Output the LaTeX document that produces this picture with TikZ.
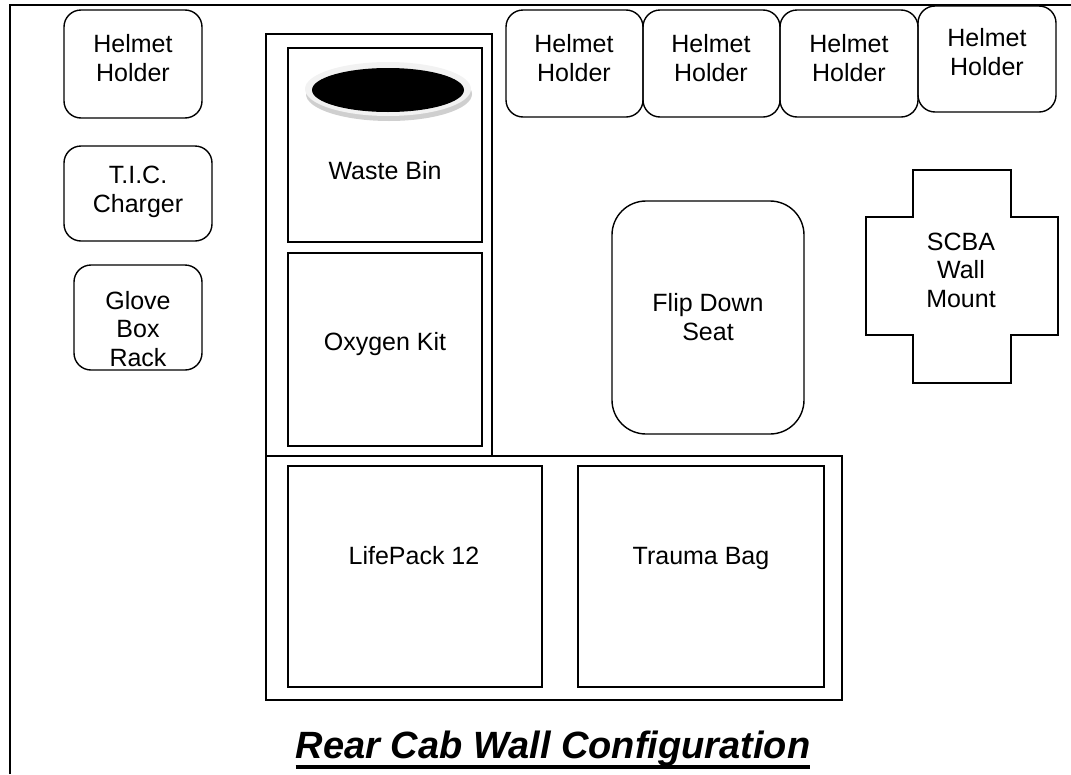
\documentclass[tikz,border=0pt]{standalone}
\usepackage{fontspec}
\setmainfont{Liberation Sans}
\usetikzlibrary{fit,calc}
\definecolor{ringgray}{HTML}{F2F2F2}
\definecolor{ringshadow}{HTML}{CFCFCF}
\tikzset{
  holder/.style={draw, line width=1.4pt, rounded corners=17pt, inner sep=0pt},
  seatbox/.style={draw, line width=1.4pt, rounded corners=34pt, inner sep=0pt},
  bay/.style={draw, line width=1.8pt, inner sep=0pt},
  lbl/.style={font=\fontsize{25}{28.5}\selectfont, align=center, inner sep=0pt},
  frameline/.style={line width=2.4pt},
}
\begin{document}
\begin{tikzpicture}[x=1pt,y=-1pt]
\useasboundingbox (0,0) rectangle (1071,774);

% outer wall frame (left and top edges)
\draw[frameline] (10,774) -- (10,5) -- (1071,5);

% helmet holders
\node[holder, fit={(64,10) (202,118)}] (hh1) {};
\node[holder, fit={(506,10) (643,117)}] (hh2) {};
\node[holder, fit={(643,10) (780,117)}] (hh3) {};
\node[holder, fit={(780,10) (918,117)}] (hh4) {};
\node[holder, fit={(918,6) (1056,112)}] (hh5) {};
\node[lbl] (hh1t) at (133,58) {Helmet\\Holder};
\node[lbl] (hh2t) at (574,58) {Helmet\\Holder};
\node[lbl] (hh3t) at (711,58) {Helmet\\Holder};
\node[lbl] (hh4t) at (849,58) {Helmet\\Holder};
\node[lbl] (hh5t) at (987,52) {Helmet\\Holder};

% thermal imaging camera charger and glove box rack
\node[holder, fit={(64,146) (212,241)}] (tic) {};
\node[lbl] (tict) at (138,192) {T.I.C.\\Charger};
\node[holder, fit={(74,265) (202,370)}] (glove) {};
\node[lbl] (glovet) at (138,329) {Glove\\Box\\Rack};

% tall cabinet with waste bin and oxygen kit
\node[bay, fit={(266,34) (492,456)}] (cab) {};
\node[bay, fit={(288,48) (482,242)}] (waste) {};
\node[bay, fit={(288,253) (482,446)}] (oxy) {};
\fill[ringshadow] (389,94) ellipse [x radius=83, y radius=27];
\fill[ringgray] (388,89) ellipse [x radius=83, y radius=27];
\fill[black] (388,90) ellipse [x radius=76, y radius=22];
\node[lbl, anchor=base] (wastet) at (385,179) {Waste Bin};
\node[lbl, anchor=base] (oxyt) at (385,350) {Oxygen Kit};

% lower cabinet
\node[bay, fit={(266,456) (842,700)}] (low) {};
\node[bay, fit={(288,466) (542,687)}] (life) {};
\node[bay, fit={(578,466) (824,687)}] (trauma) {};
\node[lbl, anchor=base] (lifet) at (414,564) {LifePack 12};
\node[lbl, anchor=base] (traumat) at (701,564) {Trauma Bag};

% flip down seat
\node[seatbox, fit={(612,201) (804,434)}] (seat) {};
\node[lbl] (seatt) at (708,317) {Flip Down\\Seat};

% SCBA wall mount (cross outline)
\draw[line width=1.4pt] (913,170) -- (1011,170) -- (1011,217) -- (1058,217)
  -- (1058,335) -- (1011,335) -- (1011,383) -- (913,383) -- (913,335)
  -- (866,335) -- (866,217) -- (913,217) -- cycle;
\node[lbl] (scbat) at (961,270) {SCBA\\Wall\\Mount};

% title
\node[inner sep=0pt, anchor=base, font=\fontsize{38}{44}\selectfont\bfseries\itshape]
  (title) at (553,758) {Rear Cab Wall Configuration};
\draw[line width=3.2pt] ([yshift=-9pt]title.base west) -- ([yshift=-9pt]title.base east);
\end{tikzpicture}
\end{document}
